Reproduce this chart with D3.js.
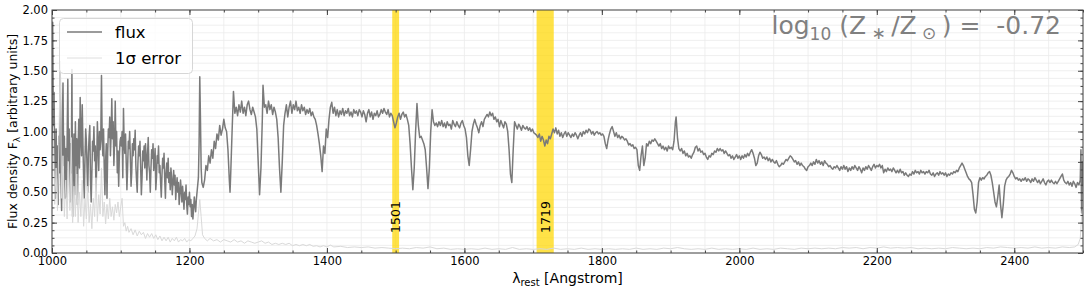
<!DOCTYPE html>
<html><head><meta charset="utf-8">
<script src="https://cdn.jsdelivr.net/npm/d3@7"></script>
<style>body{margin:0;background:#fff;} svg{display:block;font-family:"DejaVu Sans",sans-serif;}</style>
</head><body><svg id="chart" width="1088" height="291"></svg>
<script>
const xDomain = [1000, 2500];
const yDomain = [0, 2];
const xTicks = [1000, 1200, 1400, 1600, 1800, 2000, 2200, 2400];
const yTicks = [0, 0.25, 0.5, 0.75, 1.0, 1.25, 1.5, 1.75, 2.0];
const bandStart = [1495, 1705];
const bandEnd = [1505, 1730];
const bandLabels = ["1501", "1719"];
const bandLabelAt = [1500, 1718];
const legendLabels = ["flux", "1σ error"];
const metallicity = "-0.72";

const flux = [
[1000,0.80],[1001,1.90],[1002,1.05],[1003,1.32],[1004,0.70],[1005,0.45],[1006,1.02],[1007,0.62],[1008,0.88],[1009,0.40],
[1010,0.96],[1011,0.66],[1012,1.49],[1013,0.62],[1014,0.35],[1015,1.05],[1016,1.40],[1017,0.72],[1018,0.96],[1019,0.45],
[1020,0.86],[1021,0.46],[1022,0.92],[1023,1.43],[1024,0.76],[1025,1.02],[1026,0.42],[1027,0.90],[1028,0.66],[1029,1.51],
[1030,0.30],[1031,0.82],[1032,0.98],[1033,0.48],[1034,1.08],[1035,0.72],[1036,0.94],[1037,0.40],[1038,0.88],[1039,1.10],
[1040,0.70],[1041,1.28],[1042,0.95],[1043,0.80],[1044,1.22],[1045,0.90],[1046,0.62],[1047,0.45],[1048,0.78],[1049,1.02],
[1050,0.92],[1051,0.70],[1052,0.50],[1053,0.82],[1054,0.96],[1055,1.05],[1056,0.60],[1057,0.42],[1058,0.66],[1059,0.92],
[1060,0.84],[1061,1.04],[1062,0.76],[1063,0.88],[1064,0.50],[1065,0.72],[1066,1.08],[1067,0.90],[1068,0.68],[1069,1.00],
[1070,0.85],[1071,0.96],[1072,1.46],[1073,0.92],[1074,0.80],[1075,1.02],[1076,0.70],[1077,0.48],[1078,0.76],[1079,0.90],
[1080,0.45],[1081,0.82],[1082,1.02],[1083,0.95],[1084,1.12],[1085,0.80],[1086,0.98],[1087,1.27],[1088,0.94],[1089,1.08],
[1090,0.72],[1091,0.90],[1092,1.25],[1093,0.88],[1094,1.00],[1095,0.66],[1096,0.84],[1097,0.55],[1098,0.80],[1099,0.92],
[1100,0.95],[1101,0.88],[1102,1.00],[1103,0.62],[1104,1.19],[1105,0.90],[1106,0.82],[1107,0.98],[1108,0.74],[1109,0.52],
[1110,0.70],[1111,0.92],[1112,0.86],[1113,1.00],[1114,0.78],[1115,0.55],[1116,0.66],[1117,0.90],[1118,0.80],[1119,0.94],
[1120,0.85],[1121,1.01],[1122,0.72],[1123,0.60],[1124,0.50],[1125,0.74],[1126,0.88],[1127,0.80],[1128,0.92],[1129,0.70],
[1130,0.48],[1131,0.62],[1132,0.84],[1133,0.76],[1134,0.88],[1135,0.70],[1136,0.90],[1137,0.78],[1138,0.60],[1139,0.82],
[1140,0.95],[1141,0.72],[1142,0.66],[1143,0.50],[1144,0.70],[1145,0.85],[1146,0.78],[1147,0.90],[1148,0.68],[1149,0.75],
[1150,0.86],[1151,0.52],[1152,0.62],[1153,0.80],[1154,0.74],[1155,0.88],[1156,0.66],[1157,0.72],[1158,0.58],[1159,0.46],
[1160,0.64],[1161,0.78],[1162,0.70],[1163,0.82],[1164,0.60],[1165,0.45],[1166,0.66],[1167,0.74],[1168,0.62],[1169,0.78],
[1170,0.58],[1171,0.66],[1172,0.52],[1173,0.70],[1174,0.62],[1175,0.48],[1176,0.58],[1177,0.68],[1178,0.56],[1179,0.64],
[1180,0.44],[1181,0.54],[1182,0.62],[1183,0.50],[1184,0.58],[1185,0.40],[1186,0.48],[1187,0.60],[1188,0.52],[1189,0.42],
[1190,0.55],[1191,0.46],[1192,0.36],[1193,0.50],[1194,0.44],[1195,0.56],[1196,0.40],[1197,0.32],[1198,0.46],[1199,0.40],
[1200,0.50],[1201,0.38],[1202,0.44],[1203,0.30],[1204,0.40],[1205,0.28],[1206,0.36],[1207,0.46],[1208,0.40],[1209,0.34],
[1210,0.44],[1211,0.50],[1212,0.56],[1213,0.62],[1214,0.90],[1215,1.45],[1216,1.10],[1217,0.70],[1218,0.58],[1220,0.54],
[1222,0.60],[1224,0.72],[1226,0.68],[1228,0.80],[1230,0.74],[1232,0.85],[1234,0.78],[1236,0.92],[1238,0.86],[1240,0.98],
[1242,0.93],[1244,1.05],[1246,0.97],[1248,1.02],[1250,1.10],[1252,1.03],[1254,1.00],[1256,0.85],[1258,0.60],[1259,0.50],
[1260,0.65],[1262,1.00],[1264,1.33],[1266,1.15],[1268,1.20],[1270,1.13],[1272,1.22],[1274,1.16],[1276,1.25],[1278,1.15],
[1280,1.20],[1282,1.13],[1284,1.22],[1286,1.25],[1288,1.18],[1290,1.14],[1292,1.20],[1294,1.16],[1296,1.12],[1298,1.02],
[1300,0.75],[1302,0.48],[1304,0.70],[1306,1.10],[1307,1.38],[1309,1.20],[1311,1.22],[1313,1.15],[1315,1.25],[1317,1.18],
[1319,1.22],[1321,1.14],[1323,1.20],[1325,1.16],[1327,1.10],[1329,0.95],[1331,0.70],[1333,0.50],[1335,0.75],[1337,1.05],
[1339,1.15],[1341,1.22],[1343,1.12],[1345,1.20],[1347,1.25],[1349,1.15],[1351,1.22],[1353,1.18],[1355,1.25],[1357,1.17],
[1359,1.20],[1361,1.15],[1363,1.22],[1365,1.17],[1367,1.20],[1369,1.14],[1371,1.18],[1373,1.15],[1375,1.19],[1377,1.13],
[1379,1.16],[1381,1.12],[1383,1.10],[1385,1.05],[1387,0.98],[1389,0.90],[1391,0.80],[1393,0.67],[1395,0.88],[1397,0.82],
[1399,1.02],[1401,0.95],[1403,1.10],[1405,1.20],[1407,1.24],[1409,1.15],[1411,1.20],[1413,1.13],[1415,1.18],[1417,1.12],
[1419,1.17],[1421,1.14],[1423,1.19],[1425,1.13],[1427,1.17],[1429,1.15],[1431,1.19],[1433,1.13],[1435,1.16],[1437,1.12],
[1439,1.18],[1441,1.15],[1443,1.17],[1445,1.13],[1447,1.18],[1449,1.16],[1451,1.12],[1453,1.17],[1455,1.14],[1457,1.08],
[1459,1.15],[1461,1.18],[1463,1.12],[1465,1.16],[1467,1.10],[1469,1.15],[1471,1.13],[1473,1.17],[1475,1.12],[1477,1.14],
[1479,1.18],[1481,1.15],[1483,1.19],[1485,1.16],[1487,1.14],[1489,1.18],[1491,1.12],[1493,1.15],[1495,1.13],[1497,1.08],
[1499,1.03],[1501,1.07],[1503,1.12],[1505,1.15],[1507,1.10],[1509,1.14],[1511,1.16],[1513,1.12],[1515,1.14],[1517,1.10],
[1519,1.05],[1521,0.90],[1523,0.70],[1525,0.52],[1527,0.70],[1529,1.00],[1531,1.23],[1533,1.05],[1535,0.95],[1537,0.96],
[1539,0.93],[1541,0.90],[1543,0.85],[1545,0.70],[1547,0.53],[1549,0.70],[1551,1.00],[1553,1.18],[1555,1.08],[1557,1.05],
[1559,1.07],[1561,1.04],[1563,1.08],[1565,1.05],[1567,1.09],[1569,1.04],[1571,1.07],[1573,1.03],[1575,1.08],[1577,1.05],
[1579,1.06],[1581,1.02],[1583,1.09],[1585,1.06],[1587,1.04],[1589,1.08],[1591,1.05],[1593,1.03],[1595,1.07],[1597,1.09],
[1599,1.05],[1601,1.02],[1603,0.95],[1605,0.80],[1607,0.72],[1609,0.85],[1611,1.00],[1613,1.06],[1615,1.10],[1617,1.06],
[1619,1.03],[1621,0.99],[1623,1.05],[1625,1.08],[1627,1.04],[1629,1.10],[1631,1.12],[1633,1.14],[1635,1.12],[1637,1.16],
[1639,1.13],[1641,1.15],[1643,1.10],[1645,1.12],[1647,1.08],[1649,1.10],[1651,1.04],[1653,1.09],[1655,1.06],[1657,1.03],
[1659,1.08],[1661,1.06],[1663,1.00],[1665,0.85],[1667,0.65],[1669,0.58],[1671,0.85],[1673,1.08],[1675,1.05],[1677,1.02],
[1679,1.06],[1681,1.04],[1683,1.01],[1685,1.05],[1687,1.03],[1689,1.02],[1691,1.04],[1693,1.01],[1695,1.03],[1697,1.00],
[1699,1.02],[1701,0.99],[1703,0.98],[1705,0.97],[1707,0.95],[1709,0.98],[1711,0.92],[1713,0.96],[1715,0.93],[1717,0.88],
[1719,0.93],[1721,0.90],[1723,0.96],[1725,0.94],[1727,0.98],[1729,1.02],[1731,0.99],[1733,1.03],[1735,0.98],[1737,1.01],
[1739,0.96],[1741,0.99],[1743,0.95],[1745,0.98],[1747,1.00],[1749,0.96],[1751,0.99],[1753,0.97],[1755,0.95],[1757,0.98],
[1759,0.96],[1761,0.99],[1763,0.97],[1765,0.94],[1767,0.97],[1769,0.99],[1771,0.96],[1773,1.00],[1775,0.98],[1777,1.01],
[1779,0.99],[1781,1.02],[1783,1.01],[1785,0.98],[1787,1.00],[1789,0.97],[1791,0.99],[1793,1.00],[1795,0.98],[1797,0.99],
[1799,0.97],[1801,0.98],[1803,0.96],[1805,0.90],[1807,0.86],[1809,0.93],[1811,0.98],[1813,1.02],[1815,1.04],[1817,1.00],
[1819,0.96],[1821,0.99],[1823,0.95],[1825,0.97],[1827,0.94],[1829,0.96],[1831,0.95],[1833,0.93],[1835,0.94],[1837,0.92],
[1839,0.89],[1841,0.90],[1843,0.88],[1845,0.89],[1847,0.86],[1849,0.87],[1851,0.85],[1853,0.72],[1855,0.68],[1857,0.80],
[1859,0.88],[1861,0.72],[1863,0.78],[1865,0.90],[1867,0.88],[1869,0.92],[1871,0.90],[1873,0.93],[1875,0.92],[1877,0.94],
[1879,0.92],[1881,0.90],[1883,0.88],[1885,0.90],[1887,0.86],[1889,0.88],[1891,0.85],[1893,0.87],[1895,0.84],[1897,0.88],
[1899,0.86],[1901,0.87],[1903,0.85],[1905,0.92],[1907,1.08],[1908,1.12],[1910,0.95],[1912,0.86],[1914,0.84],[1916,0.86],
[1918,0.82],[1920,0.84],[1922,0.80],[1924,0.82],[1926,0.79],[1928,0.80],[1930,0.78],[1932,0.81],[1934,0.83],[1936,0.87],
[1938,0.88],[1940,0.84],[1942,0.86],[1944,0.83],[1946,0.84],[1948,0.81],[1950,0.82],[1952,0.79],[1954,0.77],[1956,0.80],
[1958,0.79],[1960,0.82],[1962,0.81],[1964,0.84],[1966,0.83],[1968,0.86],[1970,0.84],[1972,0.86],[1974,0.84],[1976,0.85],
[1978,0.82],[1980,0.84],[1982,0.82],[1984,0.80],[1986,0.81],[1988,0.78],[1990,0.80],[1992,0.77],[1994,0.79],[1996,0.81],
[1998,0.78],[2000,0.80],[2002,0.77],[2004,0.80],[2006,0.78],[2008,0.81],[2010,0.79],[2012,0.82],[2014,0.80],[2016,0.83],
[2018,0.85],[2020,0.82],[2022,0.78],[2024,0.72],[2026,0.74],[2028,0.80],[2030,0.83],[2032,0.81],[2034,0.78],[2036,0.79],
[2038,0.77],[2040,0.79],[2042,0.76],[2044,0.78],[2046,0.75],[2048,0.77],[2050,0.75],[2052,0.74],[2054,0.76],[2056,0.73],
[2058,0.71],[2060,0.72],[2062,0.74],[2064,0.73],[2066,0.75],[2068,0.77],[2070,0.76],[2072,0.78],[2074,0.80],[2076,0.79],
[2078,0.77],[2080,0.75],[2082,0.76],[2084,0.73],[2086,0.75],[2088,0.72],[2090,0.74],[2092,0.72],[2094,0.71],[2096,0.69],
[2098,0.68],[2100,0.71],[2102,0.72],[2104,0.74],[2106,0.72],[2108,0.75],[2110,0.73],[2112,0.77],[2114,0.74],[2116,0.76],
[2118,0.73],[2120,0.75],[2122,0.72],[2124,0.76],[2126,0.74],[2128,0.73],[2130,0.71],[2132,0.72],[2134,0.70],[2136,0.69],
[2138,0.71],[2140,0.70],[2142,0.72],[2144,0.70],[2146,0.68],[2148,0.71],[2150,0.69],[2152,0.72],[2154,0.69],[2156,0.71],
[2158,0.67],[2160,0.70],[2162,0.68],[2164,0.71],[2166,0.69],[2168,0.72],[2170,0.70],[2172,0.68],[2174,0.71],[2176,0.69],
[2178,0.66],[2180,0.70],[2182,0.68],[2184,0.71],[2186,0.69],[2188,0.72],[2190,0.70],[2192,0.68],[2194,0.71],[2196,0.73],
[2198,0.70],[2200,0.72],[2202,0.71],[2204,0.73],[2206,0.70],[2208,0.72],[2210,0.66],[2212,0.69],[2214,0.67],[2216,0.70],
[2218,0.68],[2220,0.69],[2222,0.67],[2224,0.70],[2226,0.68],[2228,0.66],[2230,0.68],[2232,0.66],[2234,0.69],[2236,0.66],
[2238,0.67],[2240,0.64],[2242,0.66],[2244,0.64],[2246,0.63],[2248,0.65],[2250,0.64],[2252,0.67],[2254,0.65],[2256,0.68],
[2258,0.66],[2260,0.67],[2262,0.65],[2264,0.68],[2266,0.66],[2268,0.67],[2270,0.65],[2272,0.67],[2274,0.66],[2276,0.68],
[2278,0.65],[2280,0.64],[2282,0.66],[2284,0.63],[2286,0.65],[2288,0.66],[2290,0.64],[2292,0.67],[2294,0.65],[2296,0.66],
[2298,0.64],[2300,0.66],[2302,0.63],[2304,0.65],[2306,0.64],[2308,0.66],[2310,0.65],[2312,0.67],[2314,0.66],[2316,0.68],
[2318,0.67],[2320,0.70],[2322,0.72],[2324,0.74],[2326,0.72],[2328,0.69],[2330,0.66],[2332,0.63],[2334,0.61],[2336,0.60],
[2338,0.58],[2340,0.48],[2342,0.36],[2344,0.33],[2346,0.42],[2348,0.58],[2350,0.62],[2352,0.60],[2354,0.62],[2356,0.61],
[2358,0.63],[2360,0.64],[2362,0.66],[2364,0.67],[2366,0.64],[2368,0.58],[2370,0.50],[2372,0.42],[2374,0.38],[2376,0.46],
[2378,0.56],[2380,0.40],[2382,0.29],[2384,0.40],[2386,0.55],[2388,0.60],[2390,0.62],[2392,0.63],[2394,0.65],[2396,0.68],
[2398,0.66],[2400,0.63],[2402,0.61],[2404,0.62],[2406,0.60],[2408,0.61],[2410,0.59],[2412,0.61],[2414,0.60],[2416,0.62],
[2418,0.59],[2420,0.61],[2422,0.60],[2424,0.58],[2426,0.61],[2428,0.59],[2430,0.62],[2432,0.60],[2434,0.58],[2436,0.60],
[2438,0.57],[2440,0.59],[2442,0.61],[2444,0.58],[2446,0.56],[2448,0.59],[2450,0.60],[2452,0.58],[2454,0.60],[2456,0.58],
[2458,0.57],[2460,0.59],[2462,0.57],[2464,0.59],[2466,0.61],[2468,0.63],[2470,0.65],[2472,0.60],[2474,0.58],[2476,0.57],
[2478,0.59],[2480,0.56],[2482,0.58],[2484,0.55],[2486,0.59],[2488,0.57],[2490,0.54],[2492,0.58],[2494,0.56],[2496,0.60],
[2497,0.85],[2498,0.33],[2499,0.75],[2500,0.55]
];

const fluxErr = [
[1000,0.55],[1002,1.00],[1004,0.40],[1006,0.70],[1008,0.35],[1010,0.90],[1012,1.58],[1014,0.45],[1016,0.80],[1018,0.30],
[1020,0.60],[1022,0.28],[1024,0.75],[1026,0.35],[1028,0.95],[1030,0.25],[1032,0.55],[1034,0.30],[1036,0.65],[1038,0.25],
[1040,0.50],[1042,0.30],[1044,0.60],[1046,0.22],[1048,0.45],[1050,0.28],[1052,0.55],[1054,0.25],[1056,0.40],[1058,0.20],
[1060,0.45],[1062,0.30],[1064,0.62],[1066,0.26],[1068,0.48],[1070,0.32],[1072,0.70],[1074,0.30],[1076,0.42],[1078,0.24],
[1080,0.40],[1082,0.28],[1084,0.45],[1086,0.30],[1088,0.38],[1090,0.27],[1092,0.40],[1094,0.33],[1096,0.42],[1098,0.30],
[1100,0.38],[1102,0.45],[1104,0.22],[1106,0.25],[1108,0.18],[1110,0.22],[1112,0.17],[1115,0.20],[1118,0.15],[1121,0.19],
[1124,0.14],[1127,0.18],[1130,0.15],[1133,0.17],[1136,0.12],[1139,0.16],[1142,0.13],[1145,0.16],[1148,0.12],[1151,0.15],
[1154,0.11],[1157,0.14],[1160,0.10],[1163,0.13],[1166,0.10],[1169,0.13],[1172,0.09],[1175,0.12],[1178,0.10],[1181,0.13],
[1184,0.09],[1187,0.11],[1190,0.10],[1193,0.12],[1196,0.09],[1199,0.11],[1202,0.10],[1205,0.12],[1208,0.14],[1211,0.20],
[1213,0.32],[1215,0.44],[1217,0.30],[1219,0.15],[1222,0.12],[1226,0.10],[1230,0.12],[1235,0.10],[1240,0.11],[1245,0.09],
[1250,0.11],[1255,0.10],[1260,0.09],[1265,0.11],[1270,0.09],[1275,0.10],[1280,0.08],[1285,0.10],[1290,0.09],[1295,0.08],
[1300,0.09],[1305,0.10],[1310,0.08],[1315,0.09],[1320,0.07],[1325,0.08],[1330,0.07],[1335,0.08],[1340,0.07],[1345,0.08],
[1350,0.06],[1355,0.07],[1360,0.06],[1365,0.07],[1370,0.06],[1375,0.07],[1380,0.055],[1385,0.06],[1390,0.05],[1395,0.06],
[1400,0.05],[1405,0.065],[1410,0.05],[1420,0.055],[1430,0.045],[1440,0.05],[1450,0.045],[1460,0.05],[1470,0.04],[1480,0.045],
[1490,0.04],[1500,0.035],[1510,0.04],[1520,0.035],[1530,0.045],[1540,0.04],[1550,0.05],[1560,0.035],[1570,0.04],[1580,0.03],
[1590,0.035],[1600,0.03],[1610,0.035],[1620,0.03],[1630,0.04],[1640,0.03],[1650,0.035],[1660,0.03],[1670,0.045],[1680,0.03],
[1690,0.035],[1700,0.03],[1710,0.035],[1720,0.03],[1730,0.04],[1740,0.03],[1750,0.035],[1760,0.03],[1770,0.04],[1780,0.03],
[1790,0.035],[1800,0.03],[1810,0.035],[1820,0.03],[1830,0.035],[1840,0.03],[1850,0.04],[1860,0.03],[1870,0.035],[1880,0.03],
[1890,0.04],[1900,0.035],[1910,0.045],[1920,0.035],[1930,0.03],[1940,0.035],[1950,0.03],[1960,0.04],[1970,0.03],[1980,0.035],
[1990,0.03],[2000,0.035],[2010,0.03],[2020,0.04],[2030,0.03],[2040,0.035],[2050,0.03],[2060,0.04],[2070,0.035],[2080,0.03],
[2090,0.04],[2100,0.035],[2110,0.04],[2120,0.035],[2130,0.04],[2140,0.035],[2150,0.045],[2160,0.04],[2170,0.045],[2180,0.035],
[2190,0.045],[2200,0.04],[2210,0.05],[2220,0.04],[2230,0.045],[2240,0.04],[2250,0.045],[2260,0.035],[2270,0.04],[2280,0.035],
[2290,0.04],[2300,0.035],[2310,0.045],[2320,0.04],[2330,0.035],[2340,0.04],[2350,0.035],[2360,0.045],[2370,0.04],[2380,0.05],
[2390,0.045],[2400,0.04],[2410,0.045],[2420,0.04],[2430,0.05],[2440,0.04],[2450,0.045],[2460,0.04],[2470,0.05],[2480,0.045],
[2488,0.05],[2493,0.07],[2496,0.12],[2498,0.30],[2499,0.35],[2500,0.20]
];

const W = 1088, H = 291;
const L = 52, R = 1083, T = 10, B = 253;
const x = d3.scaleLinear().domain(xDomain).range([L, R]);
const y = d3.scaleLinear().domain(yDomain).range([B, T]);
const svg = d3.select("#chart");

svg.append("defs").append("clipPath").attr("id","clip")
  .append("rect").attr("x",L).attr("y",T).attr("width",R-L).attr("height",B-T);

// grid
const xMinor = d3.range(xDomain[0], xDomain[1] + 1, 50);
const yMinor = d3.range(0, 2.0001, 0.0625);
const grid = svg.append("g");
grid.selectAll(".gx").data(xMinor).join("line")
  .attr("x1", d => x(d)).attr("x2", d => x(d)).attr("y1", T).attr("y2", B)
  .attr("stroke", "#ebebeb").attr("stroke-width", 0.8);
grid.selectAll(".gy").data(yMinor).join("line")
  .attr("x1", L).attr("x2", R).attr("y1", d => y(d)).attr("y2", d => y(d))
  .attr("stroke", "#ebebeb").attr("stroke-width", 0.8);

// bands
const bands = svg.append("g");
bands.selectAll("rect").data(bandStart).join("rect")
  .attr("x", (d,i) => x(d)).attr("width", (d,i) => x(bandEnd[i]) - x(d))
  .attr("y", T).attr("height", B - T)
  .attr("fill", "#ffd700").attr("opacity", 0.72);

// lines
const line = d3.line().x(d => x(d[0])).y(d => y(d[1]));
const plot = svg.append("g").attr("clip-path","url(#clip)");
plot.append("path").datum(flux).attr("d", line).attr("fill","none")
  .attr("stroke","#7a7a7a").attr("stroke-width",1.5).attr("stroke-linejoin","round");
plot.append("path").datum(fluxErr).attr("d", line).attr("fill","none")
  .attr("stroke","#d9d9d9").attr("stroke-width",1).attr("stroke-linejoin","round");

// band labels
svg.append("g").selectAll("text").data(bandLabels).join("text")
  .attr("transform", (d,i) => `translate(${x(bandLabelAt[i])},${y(0.165)}) rotate(-90)`)
  .attr("dy","0.36em").attr("font-size",12.5).attr("fill","#000").text(d => d);

// axes
const axColor = "#444";
function styleAxis(g){ g.select(".domain").remove(); g.selectAll("line").attr("stroke",axColor); g.selectAll("text").attr("fill","#000").attr("font-family","DejaVu Sans").attr("font-size",11.5); }
svg.append("g").attr("transform",`translate(0,${B})`)
  .call(d3.axisBottom(x).tickValues(xTicks).tickSize(-5).tickSizeOuter(0).tickPadding(4).tickFormat(d3.format("d"))).call(styleAxis);
svg.append("g").attr("transform",`translate(0,${B})`)
  .call(d3.axisBottom(x).tickValues(xMinor).tickSize(-2.5).tickSizeOuter(0).tickFormat("")).call(styleAxis);
svg.append("g").attr("transform",`translate(0,${T})`)
  .call(d3.axisTop(x).tickValues(xTicks).tickSize(-5).tickSizeOuter(0).tickFormat("")).call(styleAxis);
svg.append("g").attr("transform",`translate(0,${T})`)
  .call(d3.axisTop(x).tickValues(xMinor).tickSize(-2.5).tickSizeOuter(0).tickFormat("")).call(styleAxis);
svg.append("g").attr("transform",`translate(${L},0)`)
  .call(d3.axisLeft(y).tickValues(yTicks).tickSize(-5).tickSizeOuter(0).tickPadding(4).tickFormat(d3.format(".2f"))).call(styleAxis);
svg.append("g").attr("transform",`translate(${L},0)`)
  .call(d3.axisLeft(y).tickValues(yMinor).tickSize(-2.5).tickSizeOuter(0).tickFormat("")).call(styleAxis);
svg.append("g").attr("transform",`translate(${R},0)`)
  .call(d3.axisRight(y).tickValues(yTicks).tickSize(-5).tickSizeOuter(0).tickFormat("")).call(styleAxis);
svg.append("g").attr("transform",`translate(${R},0)`)
  .call(d3.axisRight(y).tickValues(yMinor).tickSize(-2.5).tickSizeOuter(0).tickFormat("")).call(styleAxis);
svg.append("rect").attr("x",L).attr("y",T).attr("width",R-L).attr("height",B-T)
  .attr("fill","none").attr("stroke",axColor).attr("stroke-width",1);

// axis labels
const yl = svg.append("text").attr("transform",`translate(17,${(T+B)/2}) rotate(-90)`)
  .attr("text-anchor","middle").attr("font-size",12.5).attr("fill","#000");
yl.append("tspan").text("Flux density F");
yl.append("tspan").attr("font-size",9).attr("dy",3).text("λ");
yl.append("tspan").attr("dy",-3).text(" [arbitrary units]");
const xl = svg.append("text").attr("x",(L+R)/2).attr("y",283).attr("text-anchor","middle").attr("font-size",14).attr("fill","#000");
xl.append("tspan").text("λ");
xl.append("tspan").attr("font-size",10).attr("dy",3).text("rest");
xl.append("tspan").attr("dy",-3).text(" [Angstrom]");

// legend
const lg = svg.append("g");
lg.append("rect").attr("x",59.5).attr("y",18.5).attr("width",133).attr("height",55).attr("rx",4)
  .attr("fill","#fff").attr("fill-opacity",0.8).attr("stroke","#d6d6d6");
const legColors = ["#7a7a7a","#dedede"];
legendLabels.forEach((t,i) => {
  const yy = 32 + i*26;
  lg.append("line").attr("x1",67).attr("x2",102).attr("y1",yy).attr("y2",yy).attr("stroke",legColors[i]).attr("stroke-width",i?1:1.5);
  lg.append("text").attr("x",115).attr("y",yy+6).attr("font-size",16.5).attr("fill","#000").text(t);
});

// annotation
const NB = "\u00a0";
const an = svg.append("text").attr("x",1061).attr("y",34).attr("text-anchor","end").attr("font-size",25).attr("fill","#808080");
an.append("tspan").text("log");
an.append("tspan").attr("font-size",17).attr("dy",6).text("10");
an.append("tspan").attr("dy",-6).text(NB + "(Z");
an.append("tspan").attr("font-size",17).attr("dy",5).text(NB + "∗" + NB);
an.append("tspan").attr("dy",-5).text("/Z");
an.append("tspan").attr("font-size",17).attr("dy",5).text(NB + "⊙" + NB);
an.append("tspan").attr("dy",-5).text(")" + NB + "=" + NB + NB + metallicity);
</script></body></html>
